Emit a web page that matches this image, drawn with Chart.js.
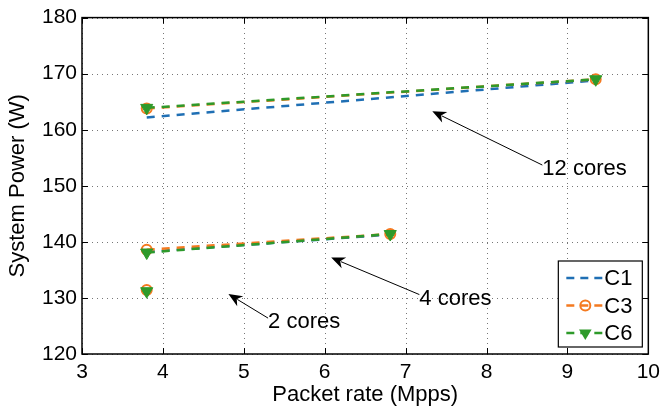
<!DOCTYPE html>
<html>
<head>
<meta charset="utf-8">
<script src="https://cdn.jsdelivr.net/npm/chart.js@4/dist/chart.umd.min.js"></script>
<style>
  html, body { margin: 0; padding: 0; background: #fff; }
  #wrap { width: 666px; height: 409px; }
</style>
</head>
<body>
<div id="wrap"><canvas id="powerChart"></canvas></div>
<script>
// measurements: one point for 2 cores, two points each for 4 and 12 cores
const rate2 = [3.8];
const rate4 = [3.8, 6.81];
const rate12 = [3.8, 9.35];

const c1Power = { two: [131.3], four: [138.2, 141.3], twelve: [162.2, 168.8] };
const c3Power = { two: [131.4], four: [138.6, 141.4], twelve: [163.8, 169.0] };
const c6Power = { two: [131.2], four: [138.1, 141.4], twelve: [163.9, 169.0] };

const xTicks = [3, 4, 5, 6, 7, 8, 9, 10];
const yTicks = [120, 130, 140, 150, 160, 170, 180];

// arrow notes: [text, headX, headY, tailX, tailY]
const notes = [
    ['12 cores', 7.33, 163.3, 8.69, 153.7],
    ['4 cores', 6.08, 137.2, 7.17, 130.6],
    ['2 cores', 4.81, 130.7, 5.30, 126.4],
];

const FONT = '"Liberation Sans", Arial, Helvetica, sans-serif';

// a null point breaks the dashed line between core groups
function buildSeries(p) {
    const pts = [];
    rate2.forEach((x, i) => pts.push({ x: x, y: p.two[i] }));
    pts.push({ x: 3.8, y: null });
    rate4.forEach((x, i) => pts.push({ x: x, y: p.four[i] }));
    pts.push({ x: 3.8, y: null });
    rate12.forEach((x, i) => pts.push({ x: x, y: p.twelve[i] }));
    return pts;
}

const dash = [8, 7];

// order: C6 painted last, on top
const datasets = [
    {
        label: 'C1', data: buildSeries(c1Power), order: 2,
        borderColor: '#1f6fb4', backgroundColor: '#1f6fb4',
        borderWidth: 2.5, borderDash: dash, pointRadius: 0,
    },
    {
        label: 'C3', data: buildSeries(c3Power), order: 1,
        borderColor: '#f47a20', backgroundColor: 'rgba(0,0,0,0)',
        borderWidth: 2.5, borderDash: dash,
        pointStyle: 'circle', pointRadius: 5, pointBorderWidth: 2,
        pointBorderColor: '#f47a20', pointBackgroundColor: 'rgba(0,0,0,0)',
    },
    {
        label: 'C6', data: buildSeries(c6Power), order: 0,
        borderColor: '#2e9a2a', backgroundColor: '#2e9a2a',
        borderWidth: 2.5, borderDash: dash,
        pointStyle: 'triangle', rotation: 180, pointRadius: 7, pointBorderWidth: 1,
        pointBorderColor: '#2e9a2a', pointBackgroundColor: '#2e9a2a',
    },
];

function drawMarker(ctx, ds, x, y) {
    ctx.save();
    ctx.setLineDash([]);
    if (ds.pointStyle === 'circle') {
        ctx.lineWidth = ds.pointBorderWidth;
        ctx.strokeStyle = ds.pointBorderColor;
        ctx.beginPath();
        ctx.arc(x, y, ds.pointRadius, 0, Math.PI * 2);
        ctx.stroke();
    } else if (ds.pointStyle === 'triangle') {
        const r = ds.pointRadius;
        ctx.fillStyle = ds.pointBackgroundColor;
        ctx.beginPath();
        ctx.moveTo(x - r * 0.9, y - r * 0.5);
        ctx.lineTo(x + r * 0.9, y - r * 0.5);
        ctx.lineTo(x, y + r);
        ctx.closePath();
        ctx.fill();
    }
    ctx.restore();
}

// dotted grid behind the data
const dottedGrid = {
    id: 'dottedGrid',
    beforeDatasetsDraw(chart) {
        const ctx = chart.ctx;
        const a = chart.chartArea;
        const xs = chart.scales.x, ys = chart.scales.y;
        ctx.save();
        ctx.strokeStyle = '#777';
        ctx.lineWidth = 1;
        ctx.setLineDash([1, 4]);
        ctx.beginPath();
        xTicks.forEach(v => {
            const px = Math.round(xs.getPixelForValue(v)) + 0.5;
            ctx.moveTo(px, a.bottom); ctx.lineTo(px, a.top);
        });
        yTicks.forEach(v => {
            const py = Math.round(ys.getPixelForValue(v)) + 0.5;
            ctx.moveTo(a.left, py); ctx.lineTo(a.right, py);
        });
        ctx.stroke();
        ctx.restore();
    }
};

// legend box inside the plot, lower right
const boxLegend = {
    id: 'boxLegend',
    afterDatasetsDraw(chart) {
        const ctx = chart.ctx;
        const a = chart.chartArea;
        const w = 84, h = 86;
        const left = a.right - 6 - w, top = a.bottom - 7 - h;
        ctx.save();
        ctx.fillStyle = '#fff';
        ctx.fillRect(left, top, w, h);
        ctx.strokeStyle = '#000';
        ctx.lineWidth = 1.2;
        ctx.strokeRect(left, top, w, h);
        chart.data.datasets.forEach((ds, i) => {
            const y = top + 17 + i * 27.5;
            ctx.save();
            ctx.strokeStyle = ds.borderColor;
            ctx.lineWidth = ds.borderWidth;
            ctx.setLineDash([8, 6]);
            ctx.beginPath();
            ctx.moveTo(left + 8, y);
            ctx.lineTo(left + 45, y);
            ctx.stroke();
            ctx.restore();
            drawMarker(ctx, ds, left + 27, y);
            ctx.fillStyle = '#000';
            ctx.font = '22px ' + FONT;
            ctx.textBaseline = 'middle';
            ctx.textAlign = 'left';
            ctx.fillText(ds.label, left + 46, y + 1);
        });
        ctx.restore();
    }
};

// frame with inward ticks on all four sides, plus the arrow notes
const frameAndNotes = {
    id: 'frameAndNotes',
    afterDraw(chart) {
        const ctx = chart.ctx;
        const a = chart.chartArea;
        const xs = chart.scales.x, ys = chart.scales.y;
        ctx.save();
        ctx.strokeStyle = '#000';
        ctx.lineWidth = 1.5;
        ctx.setLineDash([]);
        ctx.strokeRect(a.left, a.top, a.right - a.left, a.bottom - a.top);
        ctx.lineWidth = 1;
        const tl = 6;
        ctx.beginPath();
        xTicks.forEach(v => {
            const px = Math.round(xs.getPixelForValue(v)) + 0.5;
            ctx.moveTo(px, a.bottom); ctx.lineTo(px, a.bottom - tl);
            ctx.moveTo(px, a.top); ctx.lineTo(px, a.top + tl);
        });
        yTicks.forEach(v => {
            const py = Math.round(ys.getPixelForValue(v)) + 0.5;
            ctx.moveTo(a.left, py); ctx.lineTo(a.left + tl, py);
            ctx.moveTo(a.right, py); ctx.lineTo(a.right - tl, py);
        });
        ctx.stroke();

        ctx.font = '22px ' + FONT;
        ctx.textBaseline = 'middle';
        ctx.textAlign = 'left';
        notes.forEach(([text, hx, hy, tx, ty]) => {
            const x1 = xs.getPixelForValue(hx), y1 = ys.getPixelForValue(hy);
            const x2 = xs.getPixelForValue(tx), y2 = ys.getPixelForValue(ty);
            const ang = Math.atan2(y1 - y2, x1 - x2);
            const len = 15, spread = 0.4;
            ctx.strokeStyle = '#000';
            ctx.fillStyle = '#000';
            ctx.lineWidth = 1;
            ctx.beginPath();
            ctx.moveTo(x2, y2);
            ctx.lineTo(x1 - Math.cos(ang) * len * 0.7, y1 - Math.sin(ang) * len * 0.7);
            ctx.stroke();
            ctx.beginPath();
            ctx.moveTo(x1, y1);
            ctx.lineTo(x1 - len * Math.cos(ang - spread), y1 - len * Math.sin(ang - spread));
            ctx.lineTo(x1 - len * 0.65 * Math.cos(ang), y1 - len * 0.65 * Math.sin(ang));
            ctx.lineTo(x1 - len * Math.cos(ang + spread), y1 - len * Math.sin(ang + spread));
            ctx.closePath();
            ctx.fill();
            ctx.fillText(text, x2, y2 + 4);
        });
        ctx.restore();
    }
};

new Chart(document.getElementById('powerChart'), {
    type: 'scatter',
    data: { datasets: datasets },
    options: {
        responsive: true,
        maintainAspectRatio: false,
        animation: false,
        showLine: true,
        spanGaps: false,
        layout: { padding: { top: 11, right: 13, left: 0, bottom: 0 } },
        plugins: {
            legend: { display: false },
            tooltip: { enabled: false },
        },
        scales: {
            x: {
                type: 'linear', min: 3, max: 10,
                afterBuildTicks: s => { s.ticks = xTicks.map(v => ({ value: v })); },
                afterFit: s => { s.height = 55; },
                grid: { display: false, drawTicks: false },
                border: { display: false },
                ticks: { color: '#000', padding: 6, font: { family: FONT, size: 21 } },
                title: {
                    display: true, text: 'Packet rate (Mpps)', color: '#000',
                    font: { family: FONT, size: 22 }, padding: { top: 0, bottom: 1 },
                },
            },
            y: {
                type: 'linear', min: 120, max: 180,
                afterBuildTicks: s => { s.ticks = yTicks.map(v => ({ value: v })); },
                afterFit: s => { s.width = 82; },
                grid: { display: false, drawTicks: false },
                border: { display: false },
                ticks: { color: '#000', padding: 5, font: { family: FONT, size: 21 } },
                title: {
                    display: true, text: 'System Power (W)', color: '#000',
                    font: { family: FONT, size: 22 }, padding: { top: 5, bottom: 0 },
                },
            },
        },
    },
    plugins: [dottedGrid, boxLegend, frameAndNotes],
});
</script>
</body>
</html>
